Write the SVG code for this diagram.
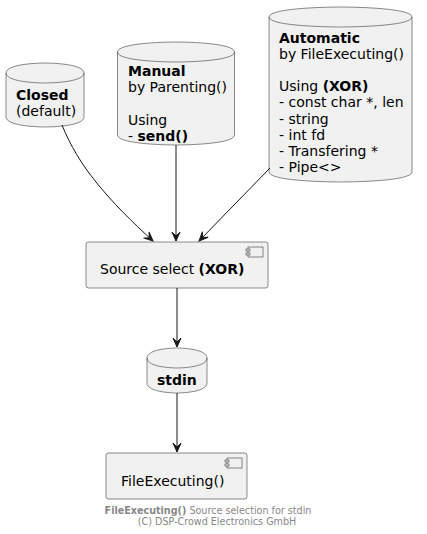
<svg xmlns="http://www.w3.org/2000/svg" width="427" height="534" viewBox="0 0 427 534">
<style>
.n{fill:#F1F1F1;stroke:#181818;stroke-width:0.5}
.in{fill:none;stroke:#181818;stroke-width:0.5}
.t{font-family:"DejaVu Sans",sans-serif;font-size:14px;fill:#000000}
.b{font-weight:bold}
.e{fill:none;stroke:#181818;stroke-width:1}
.cap{font-family:"DejaVu Sans",sans-serif;font-size:9.6px;fill:#888888}
</style>
<defs>
<marker id="ah" viewBox="-10 -5 11 10" markerWidth="11" markerHeight="10" refX="0" refY="0" orient="auto" markerUnits="userSpaceOnUse">
<path d="M0,0 L-9,-4 L-5,0 L-9,4 Z" fill="#181818" stroke="#181818" stroke-width="1"/>
</marker>
</defs>
<rect width="427" height="534" fill="#FFFFFF"/>
<g id="closed">
<path class="n" d="M6,73 C6,63 45,63 45,63 C45,63 84,63 84,73 L84,117 C84,127 45,127 45,127 C45,127 6,127 6,117 Z"/>
<path class="in" d="M6,73 C6,83 45,83 45,83 C45,83 84,83 84,73"/>
<text class="t b" x="16" y="100">Closed</text>
<text class="t" x="16" y="116">(default)</text>
</g>
<g id="manual">
<path class="n" d="M117.5,52 C117.5,42 176,42 176,42 C176,42 234.5,42 234.5,52 L234.5,135 C234.5,145 176,145 176,145 C176,145 117.5,145 117.5,135 Z"/>
<path class="in" d="M117.5,52 C117.5,62 176,62 176,62 C176,62 234.5,62 234.5,52"/>
<text class="t b" x="128" y="76">Manual</text>
<text class="t" x="128" y="92.2">by Parenting()</text>
<text class="t" x="128" y="124.6">Using</text>
<text class="t" x="128" y="140.8">- <tspan class="b">send()</tspan></text>
</g>
<g id="automatic">
<path class="n" d="M269,17 C269,7 340.5,7 340.5,7 C340.5,7 412,7 412,17 L412,172 C412,182 340.5,182 340.5,182 C340.5,182 269,182 269,172 Z"/>
<path class="in" d="M269,17 C269,27 340.5,27 340.5,27 C340.5,27 412,27 412,17"/>
<text class="t b" x="279" y="42.5">Automatic</text>
<text class="t" x="279" y="58.7">by FileExecuting()</text>
<text class="t" x="279" y="91.1">Using <tspan class="b">(XOR)</tspan></text>
<text class="t" x="279" y="107.3">- const char *, len</text>
<text class="t" x="279" y="123.5">- string</text>
<text class="t" x="279" y="139.7">- int fd</text>
<text class="t" x="279" y="155.9">- Transfering *</text>
<text class="t" x="279" y="172.1">- Pipe&lt;&gt;</text>
</g>
<g id="source">
<rect class="n" x="86" y="242" width="182" height="46" rx="2.5" ry="2.5"/>
<rect class="n" x="248" y="247" width="15" height="10"/>
<rect class="n" x="246" y="249" width="4" height="2"/>
<rect class="n" x="246" y="253" width="4" height="2"/>
<text class="t" x="100" y="274">Source select <tspan class="b">(XOR)</tspan></text>
</g>
<g id="stdin">
<path class="n" d="M147,358 C147,348 177,348 177,348 C177,348 207,348 207,358 L207,383 C207,393 177,393 177,393 C177,393 147,393 147,383 Z"/>
<path class="in" d="M147,358 C147,368 177,368 177,368 C177,368 207,368 207,358"/>
<text class="t b" x="157" y="385">stdin</text>
</g>
<g id="fileexecuting">
<rect class="n" x="106" y="453" width="141" height="46" rx="2.5" ry="2.5"/>
<rect class="n" x="227" y="458" width="15" height="10"/>
<rect class="n" x="225" y="460" width="4" height="2"/>
<rect class="n" x="225" y="464" width="4" height="2"/>
<text class="t" x="121" y="486">FileExecuting()</text>
</g>
<g id="connectors">
<path class="e" d="M62,125 C70,145 82,165 96,182 C112,202 132,222 153,241" marker-end="url(#ah)"/>
<path class="e" d="M176,145 L176,241" marker-end="url(#ah)"/>
<path class="e" d="M270,168 L199,241" marker-end="url(#ah)"/>
<path class="e" d="M177,288 L177,347" marker-end="url(#ah)"/>
<path class="e" d="M177,393 L177,452" marker-end="url(#ah)"/>
</g>
<g id="caption">
<text class="cap" x="208" y="514" text-anchor="middle"><tspan font-weight="bold">FileExecuting()</tspan> Source selection for stdin</text>
<text class="cap" x="217" y="525" text-anchor="middle" font-size="9px">(C) DSP-Crowd Electronics GmbH</text>
</g>
</svg>
